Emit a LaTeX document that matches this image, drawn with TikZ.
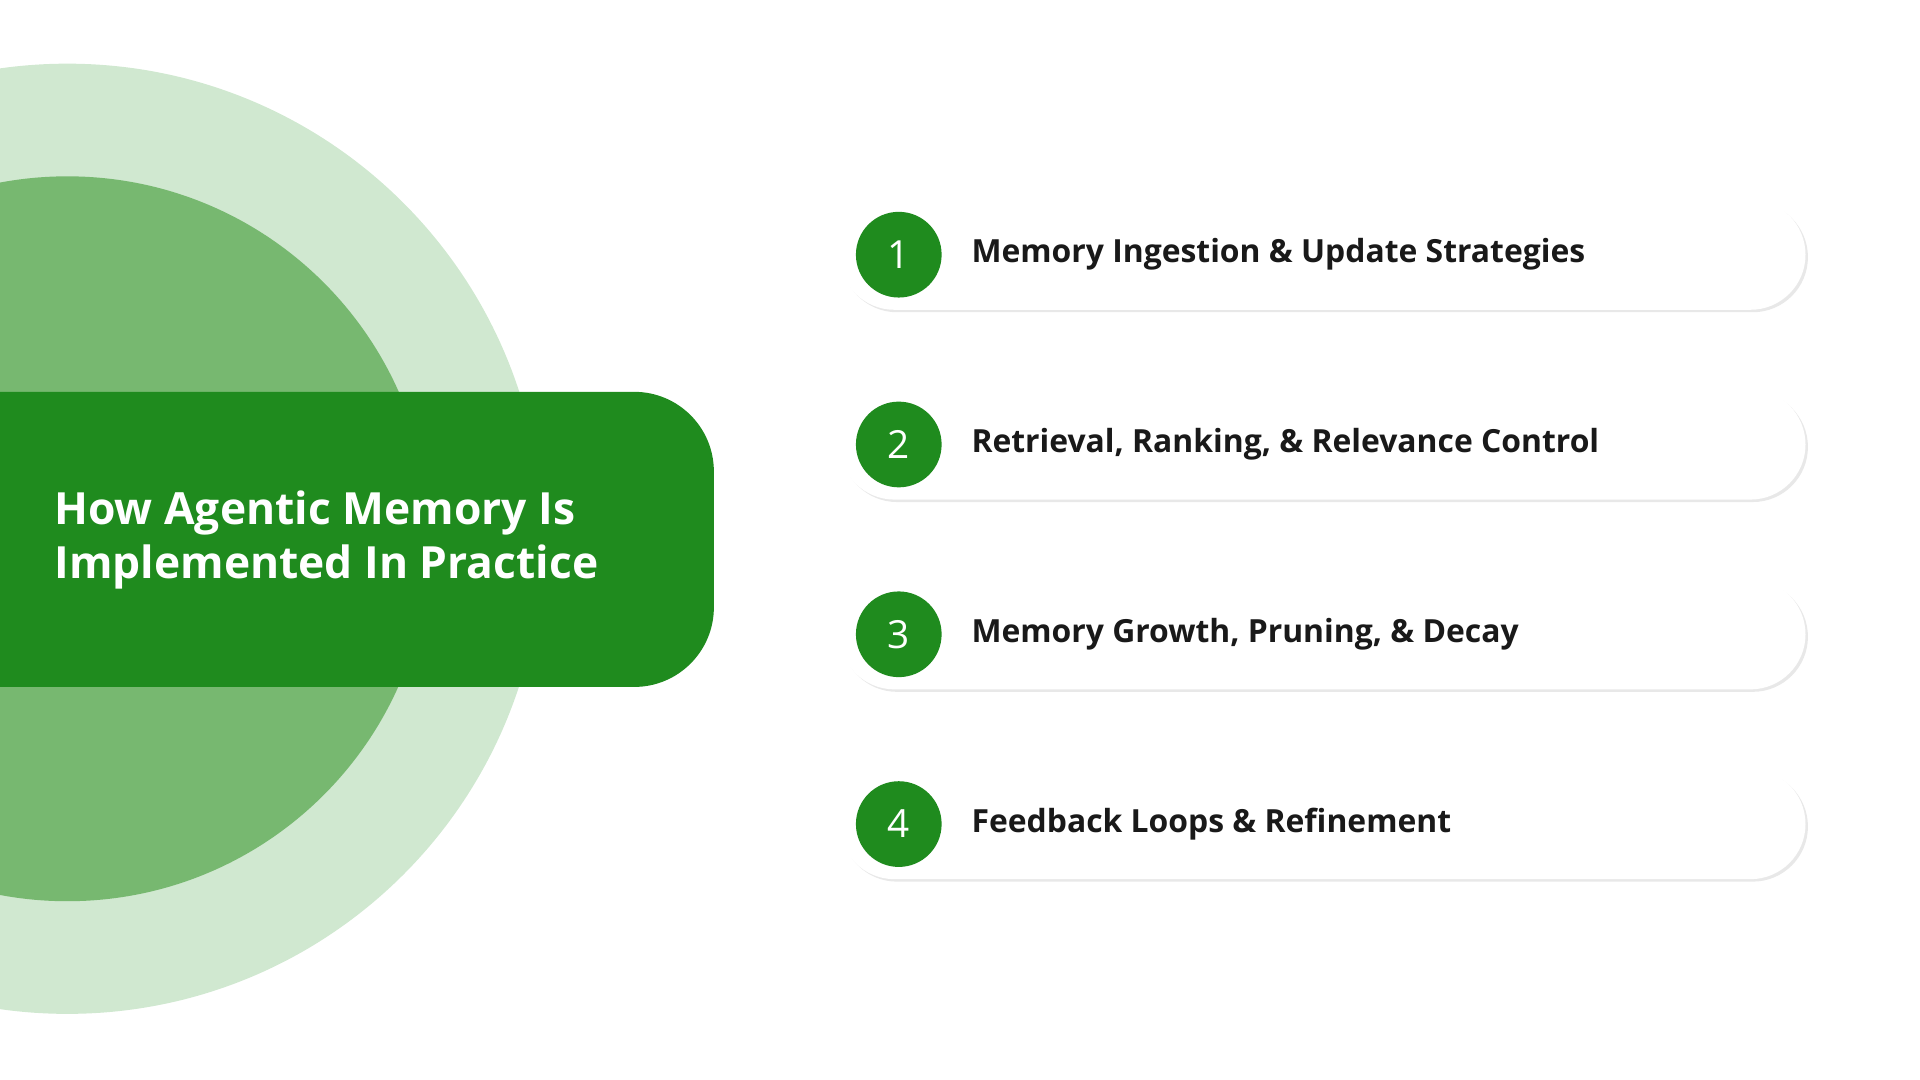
\documentclass[tikz,border=0pt]{standalone}
\usepackage{fontspec}
\setmainfont{Open Sans}
\usetikzlibrary{positioning,shadows}
\definecolor{leafgreen}{HTML}{1F8B1E}
\definecolor{midgreen}{HTML}{77B870}
\definecolor{palegreen}{HTML}{D0E8D0}
\tikzset{
  pill/.style={draw=none,fill=white,rounded corners=45*0.01cm,minimum width=789*0.01cm,minimum height=90*0.01cm,
    drop shadow={shadow xshift=0.02cm,shadow yshift=-0.02cm,opacity=0.18,fill=black!50}},
  badge/.style={circle,fill=leafgreen,text=white,minimum size=70*0.01cm,inner sep=0pt,font=\fontsize{9}{9}\selectfont},
  item/.style={anchor=west,font=\fontsize{7.4}{8}\selectfont\bfseries,text=black!90}
}
\begin{document}
\begin{tikzpicture}[x=0.01cm,y=-0.01cm]
\useasboundingbox (0,0) rectangle (1568,882);
\begin{scope}
\clip (0,0) rectangle (1568,882);
\fill[palegreen] (55,440) circle (388);
\fill[midgreen] (55,440) circle (296);
\fill[leafgreen,rounded corners=0.65cm] (-100,320) -- (583,320) -- (583,561) -- (-100,561) -- cycle;
\end{scope}
\node[anchor=west,align=left,text=white,font=\fontsize{10.3}{12.4}\selectfont\bfseries] (title) at (32,441) {How Agentic Memory Is\\Implemented In Practice};
% steps
\foreach \n/\y/\txt in {1/208/Memory Ingestion \& Update Strategies,2/363/{Retrieval, Ranking, \& Relevance Control},3/518/{Memory Growth, Pruning, \& Decay},4/673/Feedback Loops \& Refinement}{
  \node[pill] (step\n) at (1080,\y) {};
  \node[badge] (num\n) at (734,\y) {\n};
  \node[item] (label\n) at (781,\y) {\txt};
}
\end{tikzpicture}
\end{document}
